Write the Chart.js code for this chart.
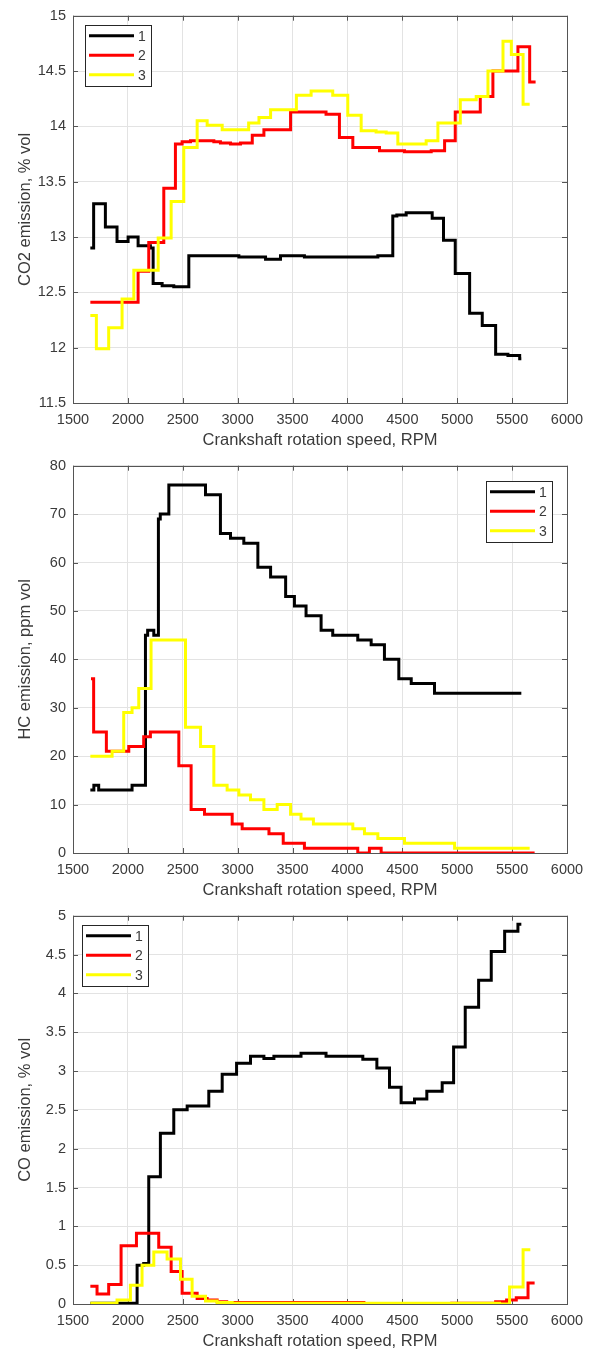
<!DOCTYPE html>
<html lang="en">
<head>
<meta charset="UTF-8">
<title>Emissions vs crankshaft speed</title>
<script src="https://cdn.jsdelivr.net/npm/chart.js@4.4.1/dist/chart.umd.min.js"></script>
<style>
  body { margin: 0; background: #fff; }
  canvas { display: block; }
</style>
</head>
<body>
<canvas id="co2" width="593" height="450"></canvas>
<canvas id="hc" width="593" height="450"></canvas>
<canvas id="co" width="593" height="451"></canvas>

<script>
// x ticks (RPM)
const rpmTicks = [1500, 2000, 2500, 3000, 3500, 4000, 4500, 5000, 5500, 6000];
const seriesNames = ['1', '2', '3'];
const seriesColors = ['#000000', '#ff0000', '#ffff00'];

// CO2, % vol  (step points: value holds until the next rpm)
const co2Rpm1 = [1658, 1688, 1795, 1901, 2002, 2093, 2205, 2230, 2312, 2418, 2555, 3011, 3254, 3390, 3608, 4277, 4413, 4450, 4535, 4772, 4875, 4982, 5113, 5228, 5350, 5462, 5569, 5584];
const co2Val1 = [12.9, 13.3, 13.09, 12.96, 13.0, 12.92, 12.9, 12.58, 12.56, 12.55, 12.83, 12.82, 12.8, 12.83, 12.82, 12.83, 13.19, 13.2, 13.22, 13.17, 12.97, 12.67, 12.31, 12.2, 11.94, 11.93, 11.9, 11.9];
const co2Rpm2 = [1658, 2093, 2190, 2327, 2433, 2494, 2570, 2783, 2843, 2935, 3026, 3133, 3239, 3482, 3805, 3927, 4049, 4292, 4520, 4763, 4885, 4982, 5210, 5325, 5553, 5660, 5714];
const co2Val2 = [12.41, 12.69, 12.95, 13.44, 13.84, 13.86, 13.87, 13.86, 13.85, 13.84, 13.85, 13.92, 13.97, 14.13, 14.11, 13.9, 13.81, 13.78, 13.77, 13.78, 13.87, 14.13, 14.27, 14.5, 14.72, 14.4, 14.4];
const co2Rpm3 = [1658, 1713, 1825, 1947, 2054, 2276, 2394, 2509, 2631, 2722, 2859, 3100, 3194, 3300, 3535, 3669, 3866, 4003, 4125, 4261, 4353, 4459, 4717, 4824, 5028, 5173, 5280, 5417, 5493, 5600, 5660];
const co2Val3 = [12.29, 11.99, 12.18, 12.44, 12.7, 12.99, 13.32, 13.81, 14.05, 14.01, 13.97, 14.03, 14.08, 14.15, 14.28, 14.32, 14.28, 14.1, 13.96, 13.95, 13.94, 13.84, 13.87, 14.03, 14.24, 14.27, 14.5, 14.77, 14.65, 14.2, 14.2];

// HC, ppm vol
const hcRpm1 = [1658, 1690, 1734, 2038, 2160, 2180, 2236, 2278, 2295, 2373, 2707, 2843, 2935, 3056, 3184, 3300, 3437, 3517, 3623, 3760, 3866, 4094, 4216, 4337, 4468, 4581, 4793, 5584];
const hcVal1 = [13, 14, 13, 14, 45, 46, 45, 69, 70, 76, 74, 66, 65, 64, 59, 57, 53, 51, 49, 46, 45, 44, 43, 40, 36, 35, 33, 33];
const hcRpm2 = [1664, 1688, 1804, 2008, 2144, 2205, 2464, 2576, 2698, 2950, 3041, 3285, 3415, 3608, 4094, 4200, 4307, 5705];
const hcVal2 = [36, 25, 21, 22, 24, 25, 18, 9, 8, 6, 5, 4, 2, 1, 0, 1, 0, 0];
const hcRpm3 = [1658, 1856, 1962, 2038, 2099, 2211, 2525, 2662, 2783, 2904, 3011, 3117, 3239, 3360, 3482, 3577, 3690, 4049, 4155, 4277, 4520, 4976, 5660];
const hcVal3 = [20, 21, 29, 30, 34, 44, 26, 22, 14, 13, 12, 11, 9, 10, 8, 7, 6, 5, 4, 3, 2, 1, 1];

// CO, % vol
const coRpm1 = [1658, 2084, 2144, 2190, 2296, 2418, 2540, 2737, 2859, 2990, 3117, 3239, 3330, 3577, 3805, 4140, 4268, 4383, 4489, 4611, 4723, 4863, 4967, 5073, 5195, 5310, 5432, 5553, 5584];
const coVal1 = [0.01, 0.5, 0.52, 1.64, 2.2, 2.5, 2.55, 2.74, 2.96, 3.1, 3.19, 3.16, 3.19, 3.23, 3.19, 3.15, 3.04, 2.79, 2.59, 2.64, 2.74, 2.85, 3.31, 3.82, 4.17, 4.54, 4.8, 4.89, 4.89];
const coRpm2 = [1658, 1719, 1825, 1938, 2078, 2281, 2394, 2494, 2631, 2722, 2813, 2900, 4150, 4950, 5350, 5450, 5538, 5645, 5705];
const coVal2 = [0.23, 0.13, 0.25, 0.75, 0.91, 0.73, 0.42, 0.14, 0.07, 0.05, 0.03, 0.02, 0.0, 0.01, 0.03, 0.05, 0.08, 0.27, 0.27];
const coRpm3 = [1658, 1901, 2023, 2129, 2236, 2357, 2479, 2585, 2707, 2813, 2950, 5386, 5477, 5600, 5666];
const coVal3 = [0.01, 0.05, 0.24, 0.5, 0.67, 0.58, 0.32, 0.1, 0.04, 0.02, 0.01, 0.0, 0.22, 0.7, 0.7];

const FONT = "Arial, 'Liberation Sans', Helvetica, sans-serif";
const TEXT = '#3a3a3a';
const AXIS = '#555555';

// axes box with inward tick marks, MATLAB style
const axesBox = {
  id: 'axesBox',
  beforeDatasetsDraw(chart) {
    const { ctx, chartArea: a, scales } = chart;
    ctx.save();
    ctx.strokeStyle = AXIS;
    ctx.lineWidth = 1;
    ctx.beginPath();
    scales.x.ticks.forEach(t => {
      const px = Math.round(scales.x.getPixelForValue(t.value)) + 0.5;
      ctx.moveTo(px, a.bottom); ctx.lineTo(px, a.bottom - 5);
      ctx.moveTo(px, a.top); ctx.lineTo(px, a.top + 5);
    });
    scales.y.ticks.forEach(t => {
      const py = Math.round(scales.y.getPixelForValue(t.value)) + 0.5;
      ctx.moveTo(a.left, py); ctx.lineTo(a.left + 5, py);
      ctx.moveTo(a.right, py); ctx.lineTo(a.right - 5, py);
    });
    ctx.stroke();
    ctx.strokeRect(Math.round(a.left) + 0.5, Math.round(a.top) + 0.5,
      Math.round(a.right - a.left), Math.round(a.bottom - a.top));
    ctx.restore();
  }
};

// boxed legend drawn inside the axes
const boxLegend = {
  id: 'boxLegend',
  afterDatasetsDraw(chart, args, opts) {
    const { ctx, chartArea: a } = chart;
    const w = 66, h = 61;
    const x0 = opts.side === 'right' ? a.right - opts.dx - w : a.left + opts.dx;
    const y0 = a.top + opts.dy;
    ctx.save();
    ctx.fillStyle = '#fff';
    ctx.fillRect(x0, y0, w, h);
    ctx.strokeStyle = '#262626';
    ctx.lineWidth = 1;
    ctx.strokeRect(Math.round(x0) + 0.5, Math.round(y0) + 0.5, w, h);
    ctx.font = '14px ' + FONT;
    ctx.textBaseline = 'middle';
    seriesNames.forEach((name, i) => {
      const yy = y0 + 11 + i * 19.5;
      ctx.strokeStyle = seriesColors[i];
      ctx.lineWidth = 3;
      ctx.beginPath();
      ctx.moveTo(x0 + 4, yy);
      ctx.lineTo(x0 + 49, yy);
      ctx.stroke();
      ctx.fillStyle = TEXT;
      ctx.fillText(name, x0 + 53, yy + 1);
    });
    ctx.restore();
  }
};

function makeSet(rpm, vals, i) {
  return {
    label: seriesNames[i],
    data: rpm.map((x, k) => ({ x: x, y: vals[k] })),
    borderColor: seriesColors[i],
    backgroundColor: seriesColors[i],
    borderWidth: 3,
    pointRadius: 0,
    stepped: 'before',
    fill: false,
    order: 2 - i
  };
}

const plainNum = v => String(Math.round(v * 100) / 100);

function makeChart(id, sets, yMin, yMax, yStep, yTitle, legendOpts) {
  return new Chart(document.getElementById(id), {
    type: 'line',
    data: { datasets: sets },
    plugins: [axesBox, boxLegend],
    options: {
      responsive: false,
      animation: false,
      layout: { padding: { top: 13, right: 26, left: 0, bottom: 0 } },
      plugins: {
        legend: { display: false },
        tooltip: { enabled: false },
        boxLegend: legendOpts
      },
      scales: {
        x: {
          type: 'linear',
          min: rpmTicks[0],
          max: rpmTicks[rpmTicks.length - 1],
          afterBuildTicks: s => { s.ticks = rpmTicks.map(v => ({ value: v })); },
          afterFit: s => { s.height = 47; },
          grid: { color: '#e3e3e3', drawTicks: false },
          border: { display: false },
          ticks: { color: TEXT, font: { family: FONT, size: 14.5 }, padding: 8, maxRotation: 0,
                   callback: plainNum },
          title: { display: true, text: 'Crankshaft rotation speed, RPM', color: TEXT,
                   font: { family: FONT, size: 16.5 }, padding: { top: 0, bottom: 0 } }
        },
        y: {
          min: yMin,
          max: yMax,
          afterFit: s => { s.width = 73; },
          grid: { color: '#e3e3e3', drawTicks: false },
          border: { display: false },
          ticks: { stepSize: yStep, color: TEXT, font: { family: FONT, size: 14.5 }, padding: 7,
                   callback: plainNum },
          title: { display: true, text: yTitle, color: TEXT,
                   font: { family: FONT, size: 16.5 }, padding: { top: 16, bottom: 0 } }
        }
      }
    }
  });
}

makeChart('co2', [
  makeSet(co2Rpm1, co2Val1, 0),
  makeSet(co2Rpm2, co2Val2, 1),
  makeSet(co2Rpm3, co2Val3, 2)
], 11.5, 15, 0.5, 'CO2 emission, % vol', { side: 'left', dx: 12, dy: 9 });

makeChart('hc', [
  makeSet(hcRpm1, hcVal1, 0),
  makeSet(hcRpm2, hcVal2, 1),
  makeSet(hcRpm3, hcVal3, 2)
], 0, 80, 10, 'HC emission, ppm vol', { side: 'right', dx: 15, dy: 15 });

makeChart('co', [
  makeSet(coRpm1, coVal1, 0),
  makeSet(coRpm2, coVal2, 1),
  makeSet(coRpm3, coVal3, 2)
], 0, 5, 0.5, 'CO emission, % vol', { side: 'left', dx: 9, dy: 9 });
</script>
</body>
</html>
